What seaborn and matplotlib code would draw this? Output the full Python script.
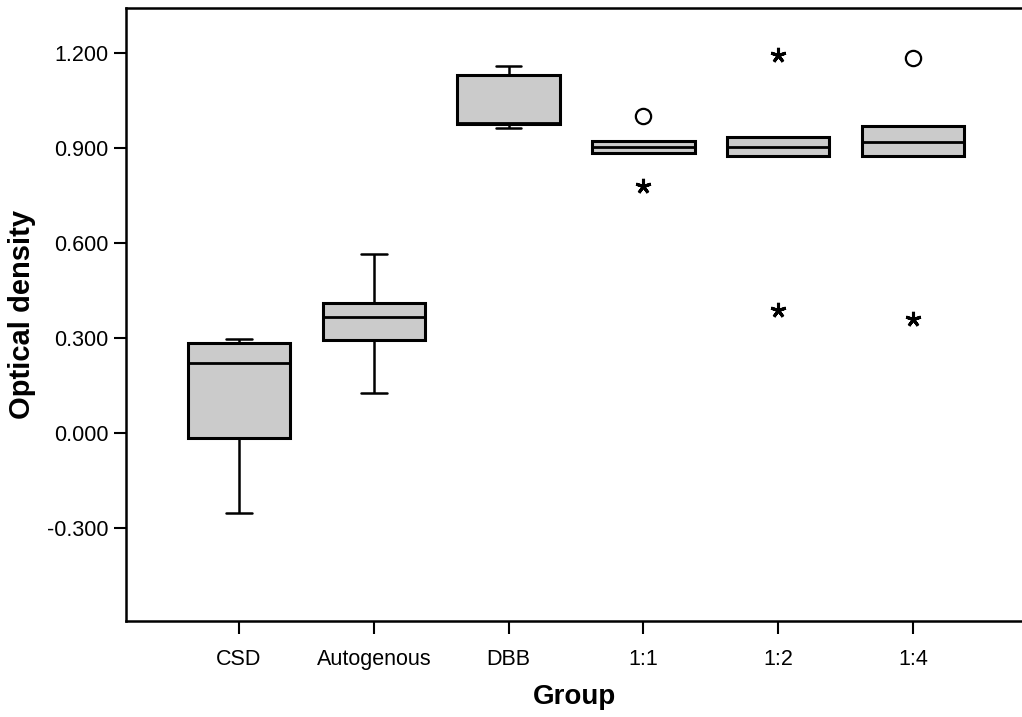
import pandas as pd
import numpy as np
import matplotlib
matplotlib.use("Agg")
import matplotlib.pyplot as plt
import seaborn as sns

# ======================================
# DATA
# ======================================
groups = ["CSD", "Autogenous", "DBB", "1:1", "1:2", "1:4"]

# values inside the whiskers
core_values = {
    "CSD": [-0.253, -0.017, 0.220, 0.285, 0.298],
    "Autogenous": [0.126, 0.292, 0.366, 0.409, 0.564],
    "DBB": [0.963, 0.976, 0.979, 1.131, 1.160],
    "1:1": [0.885, 0.885, 0.898, 0.904, 0.912, 0.923, 0.923],
    "1:2": [0.874, 0.874, 0.890, 0.905, 0.920, 0.936, 0.936],
    "1:4": [0.874, 0.874, 0.900, 0.921, 0.950, 0.970, 0.970],
}

# outliers (circles) and extremes (stars)
outlier_group = ["1:1", "1:4"]
outlier_value = [1.001, 1.184]
extreme_group = ["1:1", "1:2", "1:2", "1:4"]
extreme_value = [0.782, 1.196, 0.387, 0.359]

yticks = [-0.3, 0.0, 0.3, 0.6, 0.9, 1.2]

# ======================================
# BUILD LONG TABLE
# ======================================
rows = []
for g in groups:
    for v in core_values[g]:
        rows.append((g, v))
for g, v in zip(outlier_group, outlier_value):
    rows.append((g, v))
for g, v in zip(extreme_group, extreme_value):
    rows.append((g, v))
df = pd.DataFrame(rows, columns=["group", "od"])

# ======================================
# PLOT
# ======================================
sns.set_style("white")
plt.rcParams["font.family"] = ["Liberation Sans", "DejaVu Sans"]
plt.rcParams["text.color"] = "black"
plt.rcParams["axes.labelcolor"] = "black"

fig = plt.figure(figsize=(10.22, 7.17), dpi=100)
ax = fig.add_axes([0.1233, 0.1332, 0.8767, 0.8554])

sns.boxplot(data=df, x="group", y="od", order=groups, ax=ax,
            width=0.76, color="#cbcbcb", linecolor="black", showfliers=False,
            boxprops={"linewidth": 2.2, "edgecolor": "black"},
            whiskerprops={"linewidth": 1.8},
            capprops={"linewidth": 1.8},
            medianprops={"linewidth": 2.0, "color": "black"})

# narrower whisker caps, like SPSS
for ln in ax.lines:
    xd = np.asarray(ln.get_xdata(), dtype=float)
    yd = np.asarray(ln.get_ydata(), dtype=float)
    if len(xd) == 2 and yd[0] == yd[1] and 0 < abs(xd[1] - xd[0]) < 0.5:
        c = xd.mean()
        ln.set_xdata([c - 0.095, c + 0.095])

# SPSS style outlier markers
out_x = [groups.index(g) for g in outlier_group]
ax.plot(out_x, outlier_value, linestyle="none", marker="o", markersize=11,
        markerfacecolor="none", markeredgecolor="black", markeredgewidth=1.6)
ext_x = [groups.index(g) for g in extreme_group]
ax.plot(ext_x, extreme_value, linestyle="none", marker=(5, 2, 0), markersize=11,
        markeredgecolor="black", markeredgewidth=2.2)

ax.set_xlim(-0.838, 5.809)
ax.set_ylim(-0.597, 1.343)
ax.set_yticks(yticks)
ax.set_yticklabels([f"{t:.3f}" for t in yticks])

ax.tick_params(axis="both", direction="out", length=9, width=1.5,
               colors="black", labelsize=15.5, bottom=True, left=True)
ax.tick_params(axis="x", pad=11)
ax.tick_params(axis="y", pad=3.5)

for side in ["left", "bottom", "top"]:
    ax.spines[side].set_color("black")
    ax.spines[side].set_linewidth(1.8)
ax.spines["right"].set_visible(False)

ax.set_xlabel("Group", fontsize=20, fontweight="bold")
ax.set_ylabel("Optical density", fontsize=21, fontweight="bold")
ax.xaxis.set_label_coords(0.501, -0.102)
ax.yaxis.set_label_coords(-0.100, 0.5)

fig.savefig("out.png", dpi=100)
